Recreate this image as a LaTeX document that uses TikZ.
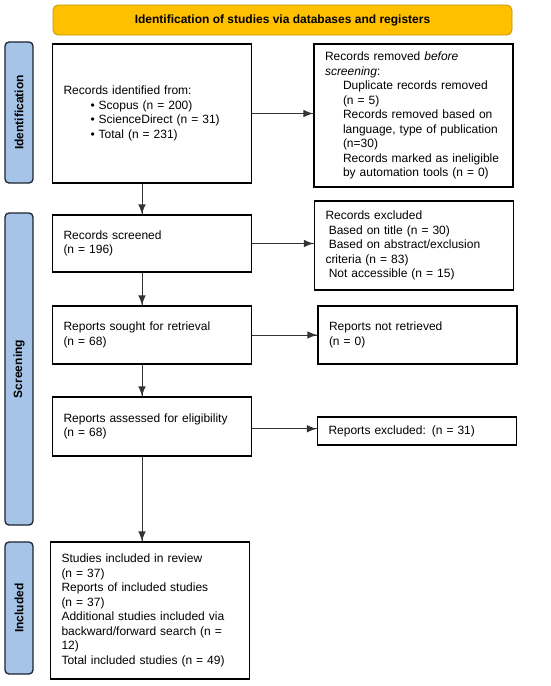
\documentclass[tikz,border=0pt]{standalone}
\usepackage{fontspec}
\setmainfont{Liberation Sans}
\usetikzlibrary{calc,decorations.markings}
\definecolor{gold}{HTML}{FFC000}
\definecolor{goldline}{HTML}{C29200}
\definecolor{phaseblue}{HTML}{A6C4E8}
\definecolor{phaseline}{HTML}{1C2330}
\tikzset{->/.style = {draw = black!80, line width = 1, decoration={markings, mark=at position 1 with {\arrow[scale=1.7]{latex}}}, postaction={decorate}}}
\tikzset{box/.style = {draw, line width = 1.3, text width = 177pt, inner xsep = 11, inner ysep = 0, align = left, font = \fontsize{12}{14.5}\selectfont}}
\tikzset{phase/.style = {draw = phaseline, fill = phaseblue, line width = 1.3, rounded corners = 4, rotate = 90, minimum height = 28, inner sep = 0, font = \bfseries\fontsize{12}{14}\selectfont}}
\tikzset{head/.style = {draw = goldline, fill = gold, line width = 0.8, rounded corners = 5, minimum width = 459, minimum height = 30, inner sep = 0, font = \bfseries\fontsize{12}{14}\selectfont}}
\newcommand{\ind}{\hspace*{18pt}}

\begin{document}
\begin{tikzpicture}[x = 1pt, y = -1pt]
    \useasboundingbox (0, 0) rectangle (550, 686);
    \node [head] (title) at (282.5, 20) {Identification of studies via databases and registers};
    \node [phase, minimum width = 141] (ident) at (19, 112.5) {Identification};
    \node [phase, minimum width = 312] (screen) at (19, 369) {Screening};
    \node [phase, minimum width = 132] (incl) at (19, 608) {Included};
    \node [box, minimum height = 139] (found) at (152, 113.5) {Records identified from:\\ \hspace*{27pt}• Scopus (n = 200)\\ \hspace*{27pt}• ScienceDirect (n = 31)\\ \hspace*{27pt}• Total (n = 231)};
    \node [box, minimum height = 143] (removed) at (413.5, 115.5) {Records removed \textit{before}\\ \textit{screening}:\\ \ind Duplicate records removed\\ \ind (n = 5)\\ \ind Records removed based on\\ \ind language, type of publication\\ \ind (n=30)\\ \ind Records marked as ineligible\\ \ind by automation tools (n = 0)};
    \node [box, minimum height = 57] (screened) at (152, 243.5) {Records screened\\ (n = 196)};
    \node [box, minimum height = 89] (excluded) at (414, 245.5) {Records excluded\\ \hspace*{3.3pt}Based on title (n = 30)\\ \hspace*{3.3pt}Based on abstract/exclusion\\ criteria (n = 83)\\ \hspace*{3.3pt}Not accessible (n = 15)};
    \node [box, minimum height = 58] (sought) at (152, 335) {Reports sought for retrieval\\ (n = 68)};
    \node [box, minimum height = 58] (notret) at (417.5, 335) {Reports not retrieved\\ (n = 0)};
    \node [box, minimum height = 59] (assessed) at (152, 426.5) {Reports assessed for eligibility\\ (n = 68)};
    \node [box, minimum height = 28] (repexcl) at (417, 431) {Reports excluded: (n = 31)};
    \node [box, minimum height = 137] (included) at (150, 610.5) {Studies included in review\\ (n = 37)\\ Reports of included studies\\ (n = 37)\\ Additional studies included via\\ backward/forward search (n =\\ 12)\\ Total included studies (n = 49)};
    \draw [->] (found.east) -- (found.east -| removed.west);
    \draw [->] (screened.east) -- (screened.east -| excluded.west);
    \draw [->] (sought.east) -- (sought.east -| notret.west);
    \draw [->] ($(assessed.east)!0.5!(assessed.east |- repexcl.west)$) -- ($(repexcl.west)!0.5!(repexcl.west |- assessed.east)$);
    \draw [->] ([xshift = -10]found.south) -- ([xshift = -10]screened.north);
    \draw [->] ([xshift = -10]screened.south) -- ([xshift = -10]sought.north);
    \draw [->] ([xshift = -10]sought.south) -- ([xshift = -10]assessed.north);
    \draw [->] ([xshift = -10]assessed.south) -- ([xshift = -10]assessed.south |- included.north);
\end{tikzpicture}
\end{document}
